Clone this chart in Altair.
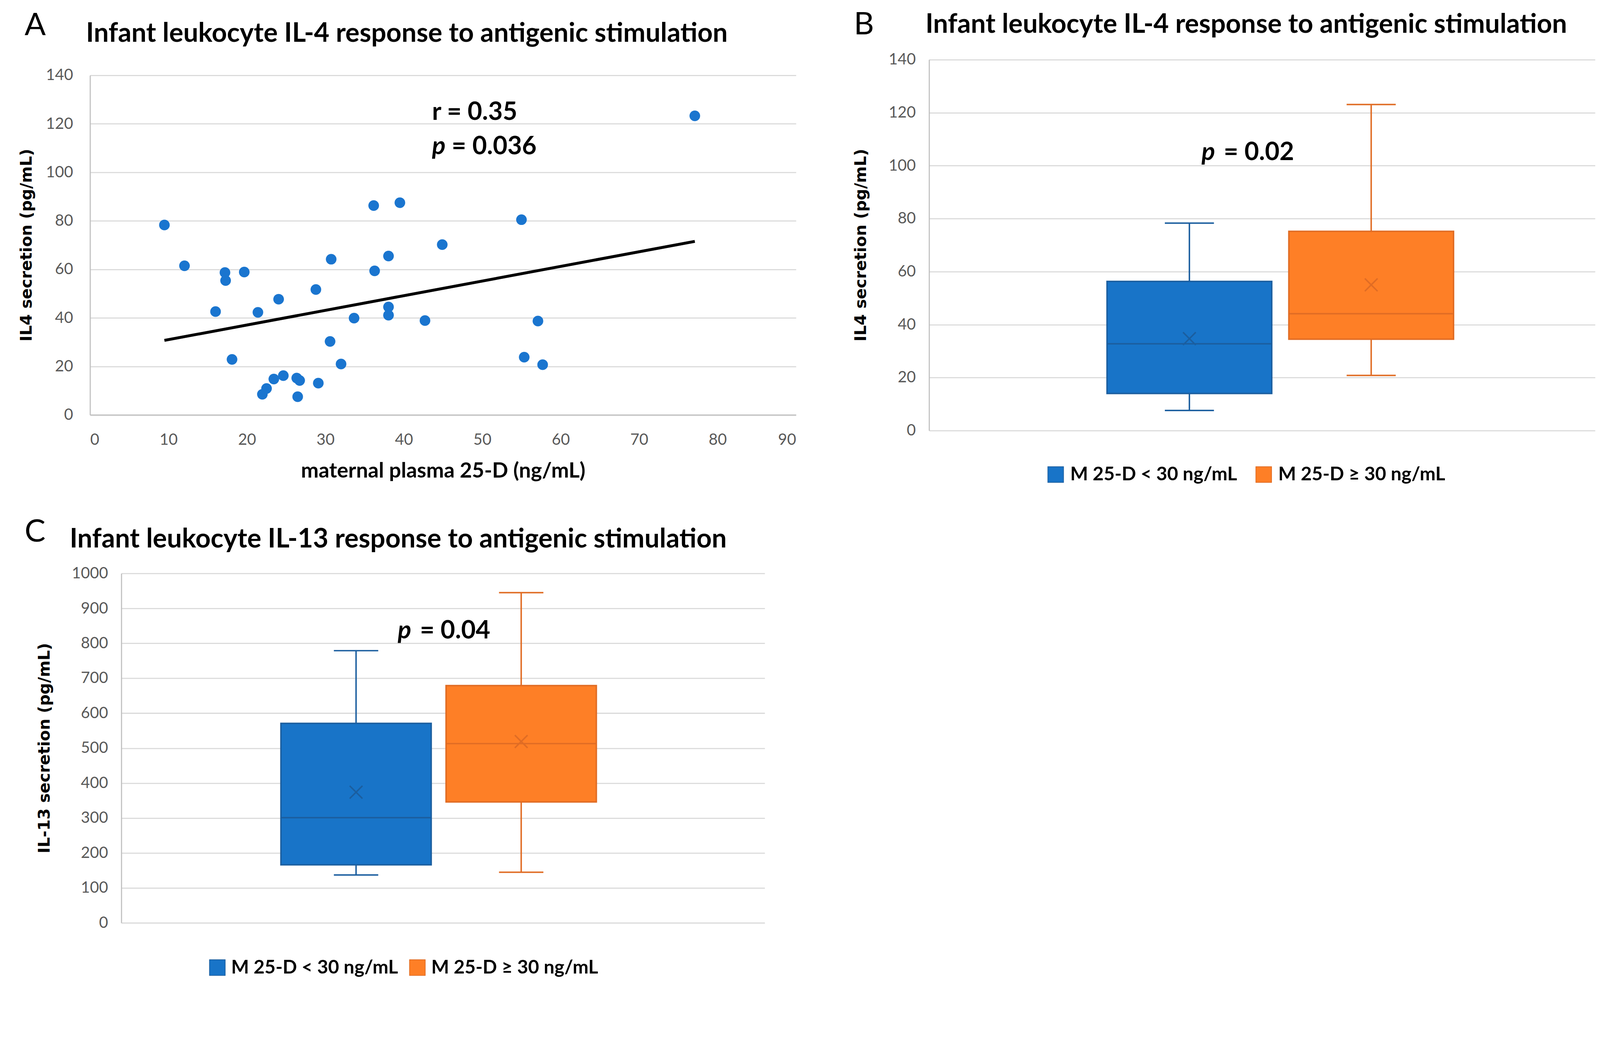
import altair as alt
import pandas as pd

# ---------------- data ----------------
# Panel A: maternal plasma 25-D vs infant IL-4 secretion
maternal_25d = [9.48, 12.04, 16.0, 17.2, 17.28, 18.1, 19.66, 21.4, 21.97, 22.5,
                23.43, 24.04, 24.64, 26.35, 26.72, 26.47, 28.79, 29.1, 30.6, 30.74,
                32.0, 33.66, 36.16, 36.28, 38.05, 38.05, 38.05, 39.5, 42.7, 44.9,
                55.0, 55.35, 57.1, 57.7, 77.1]
il4_secretion = [78.3, 61.5, 42.6, 58.7, 55.4, 22.9, 58.9, 42.3, 8.5, 10.9,
                 14.8, 47.7, 16.2, 15.2, 14.2, 7.5, 51.7, 13.1, 30.3, 64.2,
                 21.0, 39.9, 86.3, 59.4, 65.5, 44.5, 41.1, 87.5, 38.9, 70.2,
                 80.5, 23.8, 38.7, 20.7, 123.3]
x_ticks_a = [0, 10, 20, 30, 40, 50, 60, 70, 80, 90]
y_ticks_il4 = [0, 20, 40, 60, 80, 100, 120, 140]
y_ticks_il13 = [0, 100, 200, 300, 400, 500, 600, 700, 800, 900, 1000]

# Panels B and C: box plots by maternal 25-D group
groups = ["M 25-D < 30 ng/mL", "M 25-D \u2265 30 ng/mL"]
il4_min = [7.6, 20.8]
il4_q1 = [14.0, 34.5]
il4_med = [32.75, 44.1]
il4_q3 = [56.3, 75.2]
il4_max = [78.3, 123.1]
il4_mean = [34.7, 55.0]

il13_min = [137, 145]
il13_q1 = [166, 346]
il13_med = [301, 513]
il13_q3 = [571, 679]
il13_max = [779, 945]
il13_mean = [374, 519]

title_il4 = "Infant leukocyte IL-4 response to antigenic stimulation"
title_il13 = "Infant leukocyte IL-13 response to antigenic stimulation"
ytitle_il4 = "IL4 secretion (pg/mL)"
ytitle_il13 = "IL-13 secretion (pg/mL)"

# ---------------- styles ----------------
FONT = "Lato"
YT_FONT = "DejaVu Sans"
POINT_BLUE = "#1A75CF"
FILLS = ["#1874C8", "#FE7F26"]
STROKES = ["#1B5E9F", "#E06C24"]
TITLE_SIZE = 73
LETTER_SIZE = 86
ANNOT_SIZE = 69


def text_layer(text, x, y, size, weight="bold", style="normal", dx=0, baseline="alphabetic"):
    return alt.Chart(pd.DataFrame({"t": [text]})).mark_text(
        font=FONT, fontSize=size, fontWeight=weight, fontStyle=style,
        align="left", baseline=baseline, color="black", dx=dx
    ).encode(x=x, y=y, text="t:N")


def ytitle_layer(text, x, y):
    return alt.Chart(pd.DataFrame({"t": [text]})).mark_text(
        font=YT_FONT, fontSize=44, fontWeight="bold", angle=270,
        align="center", baseline="middle", color="black"
    ).encode(x=alt.value(x), y=alt.value(y), text="t:N")


def legend_layers(sym_x, lab_x, y):
    layers = []
    for i, g in enumerate(groups):
        layers.append(
            alt.Chart(pd.DataFrame({"g": [g]})).mark_point(
                shape="square", size=1850, filled=True, fill=FILLS[i],
                stroke=STROKES[i], strokeWidth=2, opacity=1
            ).encode(x=alt.value(sym_x[i]), y=alt.value(y))
        )
        layers.append(text_layer(g, alt.value(lab_x[i]), alt.value(y), 52, baseline="middle"))
    return layers


# ---------------- Panel A ----------------
W_A, H_A = 1941, 934
df_a = pd.DataFrame({"x": maternal_25d, "y": il4_secretion})
x_scale_a = alt.Scale(domain=[0, 90], nice=False)
y_scale_a = alt.Scale(domain=[0, 140], nice=False)
x_axis_a = alt.Axis(values=x_ticks_a, grid=False, title="maternal plasma 25-D (ng/mL)",
                    titleFont=FONT, titleFontSize=58, titleFontWeight="bold",
                    titleY=172, titleBaseline="alphabetic", labelPadding=48)
y_axis_a = alt.Axis(values=y_ticks_il4, title=None, labelPadding=47)

pts = alt.Chart(df_a).mark_circle(size=855, color=POINT_BLUE, opacity=1).encode(
    x=alt.X("x:Q", scale=x_scale_a, axis=x_axis_a),
    y=alt.Y("y:Q", scale=y_scale_a, axis=y_axis_a),
)
trend = alt.Chart(df_a).transform_regression("x", "y").mark_line(
    color="black", strokeWidth=8
).encode(
    x=alt.X("x:Q", scale=x_scale_a, axis=x_axis_a),
    y=alt.Y("y:Q", scale=y_scale_a, axis=y_axis_a),
)
panel_a = alt.layer(
    pts, trend,
    text_layer("r = 0.35", alt.datum(43.6), alt.datum(121.7), ANNOT_SIZE),
    text_layer("p", alt.datum(43.6), alt.datum(107.4), ANNOT_SIZE, style="italic"),
    text_layer("= 0.036", alt.datum(43.6), alt.datum(107.4), ANNOT_SIZE, dx=54),
    text_layer("A", alt.value(-180), alt.value(-110), LETTER_SIZE, weight="normal"),
    text_layer(title_il4, alt.value(-11), alt.value(-92), TITLE_SIZE),
    ytitle_layer(ytitle_il4, -174, H_A / 2),
).properties(width=W_A, height=H_A)


# ---------------- box panels ----------------
def box_panel(mins, q1s, meds, q3s, maxs, means, W, H, ydomain, yticks, ytitle,
              pad_in, pad_out, align, cap, leg, letter, letter_xy,
              title, title_xy, ytitle_x, p_text, p_y, p_dx):
    df = pd.DataFrame({"group": groups, "lo": mins, "q1": q1s, "med": meds,
                       "q3": q3s, "hi": maxs, "mean": means})
    x = alt.X("group:N", scale=alt.Scale(domain=groups, paddingInner=pad_in,
                                         paddingOuter=pad_out, align=align), axis=None)
    ys = alt.Scale(domain=ydomain, nice=False)
    yax = alt.Axis(values=yticks, title=None, labelPadding=37, format="d")
    stroke = alt.Stroke("group:N", scale=alt.Scale(domain=groups, range=STROKES), legend=None)
    fill = alt.Fill("group:N", scale=alt.Scale(domain=groups, range=FILLS), legend=None)
    base = alt.Chart(df)
    whisk = base.mark_rule(strokeWidth=4).encode(
        x=x, y=alt.Y("lo:Q", scale=ys, axis=yax), y2="hi:Q", stroke=stroke)
    box = base.mark_bar(strokeWidth=4).encode(
        x=x, y=alt.Y("q1:Q", scale=ys, axis=yax), y2="q3:Q", fill=fill, stroke=stroke)
    med = base.mark_bar(strokeWidth=4, fillOpacity=0).encode(
        x=x, y=alt.Y("med:Q", scale=ys, axis=yax), y2="med:Q", stroke=stroke)
    cap_lo = base.mark_bar(strokeWidth=4, fillOpacity=0, size=cap).encode(
        x=x, y=alt.Y("lo:Q", scale=ys, axis=yax), y2="lo:Q", stroke=stroke)
    cap_hi = base.mark_bar(strokeWidth=4, fillOpacity=0, size=cap).encode(
        x=x, y=alt.Y("hi:Q", scale=ys, axis=yax), y2="hi:Q", stroke=stroke)
    mean = base.mark_point(shape="M-1,-1L1,1M-1,1L1,-1", size=1225, filled=False,
                           strokeWidth=4, opacity=1).encode(
        x=x, y=alt.Y("mean:Q", scale=ys, axis=yax), stroke=stroke)
    return alt.layer(
        whisk, box, med, cap_lo, cap_hi, mean,
        text_layer("p", alt.datum(groups[0]), alt.datum(p_y), ANNOT_SIZE, style="italic", dx=p_dx),
        text_layer(p_text, alt.datum(groups[0]), alt.datum(p_y), ANNOT_SIZE, dx=p_dx + 61),
        text_layer(letter, alt.value(letter_xy[0]), alt.value(letter_xy[1]), LETTER_SIZE, weight="normal"),
        text_layer(title, alt.value(title_xy[0]), alt.value(title_xy[1]), TITLE_SIZE),
        ytitle_layer(ytitle, ytitle_x, H / 2),
        *legend_layers(*leg),
    ).properties(width=W, height=H)


panel_b = box_panel(il4_min, il4_q1, il4_med, il4_q3, il4_max, il4_mean,
                    1831, 1020, [0, 140], y_ticks_il4, ytitle_il4,
                    0.094, 0.8785, 0.557, 135,
                    ([348, 920], [388, 960], 1141), "B", (-207, -70),
                    title_il4, (-10, -74), -186, "= 0.02", 102.1, 33.5)

panel_c = box_panel(il13_min, il13_q1, il13_med, il13_q3, il13_max, il13_mean,
                    1769, 961, [0, 1000], y_ticks_il13, ytitle_il13,
                    0.09, 0.993, 0.4866, 122,
                    ([264, 814], [302, 852], 1084), "C", (-266, -88),
                    title_il13, (-142, -71), -210, "= 0.04", 813.7, 114.6)

chart = alt.ConcatChart(
    concat=[panel_a, panel_b, panel_c],
    columns=2,
    spacing={"row": 393, "column": 366},
    bounds="flush",
    align="each",
    center=True,
    padding={"left": 43, "top": -76, "right": 5, "bottom": -84},
    background="white",
).configure_view(strokeWidth=0).configure_axis(
    domainColor="#BFBFBF", domainWidth=3, gridColor="#D9D9D9", gridWidth=3,
    ticks=False, tickSize=0, labelColor="#595959", labelFont=FONT, labelFontSize=43,
    titleColor="black",
)

chart.save("out.html", embed_options={"renderer": "svg", "actions": False})
